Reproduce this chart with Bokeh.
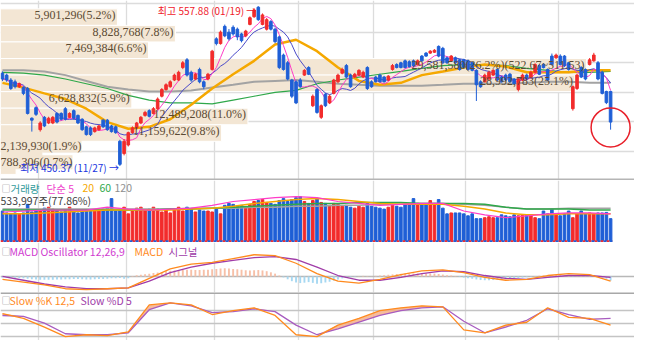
import numpy as np
import pandas as pd
from bokeh.plotting import figure
from bokeh.models import ColumnDataSource, Range1d, FixedTicker, LabelSet, Label, Span
from bokeh.layouts import column
from bokeh.embed import file_html
from bokeh.resources import INLINE
from bokeh.core.properties import value

# ---------------- data (daily candles) ----------------
opens = [512.8,511.5,508.2,507.0,503.7,503.1,502.5,482.5,489.6,474.8,483.1,479.3,479.3,485.7,485.7,488.9,483.1,487.6,484.4,481.8,
         476.7,476.0,473.5,474.8,481.2,481.2,477.3,476.7,467.0,458.7,464.5,472.8,476.0,479.3,484.4,487.6,485.7,488.9,497.3,501.8,
         503.7,508.2,508.2,516.6,521.8,513.4,508.9,515.3,507.0,508.9,515.3,535.9,532.7,544.3,540.4,543.7,542.4,539.2,537.9,545.6,
         550.8,557.2,545.6,542.4,547.5,542.4,537.2,525.0,519.8,508.2,507.0,508.2,511.5,516.6,490.9,501.8,483.1,498.6,492.8,499.2,
         507.0,512.8,517.9,511.5,510.2,511.5,510.2,516.6,507.0,510.2,511.5,510.2,508.2,515.3,518.6,519.8,521.1,520.5,521.1,518.6,
         524.3,526.3,526.3,526.9,530.8,529.5,523.1,521.1,523.1,521.8,521.8,521.1,519.8,514.7,507.0,507.0,508.9,511.5,515.3,510.2,
         511.5,512.1,508.9,501.8,508.2,511.5,510.2,513.4,517.9,518.6,515.3,524.3,523.1,524.3,524.3,519.8,488.9,502.5,516.6,515.3,
         518.6,521.1,519.8,513.4,500.5,500.5]
highs = [514.0,512.5,509.5,508.5,506.5,504.0,503.5,483.1,490.5,480.5,484.0,483.5,484.0,486.5,486.5,490.0,486.5,488.5,485.0,482.5,
         477.5,477.0,476.8,478.0,482.0,482.0,478.0,477.5,468.0,468.5,473.5,477.0,480.0,484.0,487.5,488.5,490.0,496.5,502.8,506.0,
         508.0,512.5,514.5,521.0,523.0,514.5,513.0,516.5,508.0,513.0,528.5,537.0,541.5,545.5,542.5,545.0,543.5,540.0,542.0,551.0,
         556.5,557.88,553.0,550.0,548.5,543.5,538.0,526.0,521.0,509.0,508.0,509.5,515.5,517.5,498.5,502.8,491.8,499.5,498.5,509.0,
         512.5,516.5,519.0,512.5,513.0,515.5,514.5,517.5,508.0,511.0,512.5,511.0,511.5,519.0,519.5,520.5,522.0,521.5,522.0,522.0,
         525.0,527.0,528.3,529.0,531.5,530.5,524.0,525.0,524.0,522.5,522.5,522.0,520.5,515.5,508.0,512.5,514.5,515.5,516.0,511.0,
         512.5,513.0,509.5,509.5,512.5,512.5,514.5,519.5,519.0,519.5,516.0,526.0,526.0,525.5,525.0,520.5,504.5,512.5,517.5,516.0,
         523.0,526.5,521.0,514.5,501.0,501.0]
lows = [507.5,507.0,501.5,502.5,502.8,498.0,485.0,473.5,484.0,473.5,476.5,478.5,478.5,479.0,481.0,481.0,482.5,481.5,478.5,474.0,
        470.8,470.5,472.8,474.0,476.0,474.0,472.8,472.0,450.37,457.5,463.5,472.0,475.0,478.5,483.5,483.0,485.0,488.0,496.5,501.0,
        503.0,507.5,507.5,515.5,510.5,507.0,508.0,506.0,502.0,508.0,514.5,531.5,532.0,537.0,534.7,538.0,535.0,533.5,537.0,545.0,
        550.0,548.0,545.0,541.5,541.5,533.0,515.5,514.5,508.0,496.0,492.0,503.0,511.0,511.5,490.0,485.5,482.0,490.0,492.0,498.5,
        506.0,512.0,509.5,503.0,509.5,511.0,509.5,501.5,503.0,506.5,506.5,506.5,507.5,514.5,516.0,516.0,516.0,516.5,517.0,518.0,
        520.5,523.8,525.8,526.5,523.5,519.0,519.0,520.5,519.0,514.5,516.0,514.5,514.0,494.1,503.0,506.5,508.0,511.0,507.5,506.5,
        507.5,506.5,505.0,500.5,507.5,508.0,509.5,512.5,511.5,516.0,507.5,518.0,522.5,518.0,517.0,514.5,487.6,501.5,509.5,508.0,
        518.0,520.5,508.0,498.5,492.0,474.8]
closes = [508.9,508.2,502.5,503.7,505.7,499.2,485.7,481.2,485.1,479.3,477.3,482.5,483.1,479.9,481.8,481.8,485.7,482.5,479.3,474.8,
          471.5,471.5,476.0,477.3,476.7,474.8,473.5,472.8,451.5,467.0,472.8,476.0,479.3,483.1,486.4,483.8,488.9,495.4,501.8,505.0,
          507.0,511.5,513.4,519.8,511.5,508.2,512.1,507.0,503.7,512.1,527.6,532.7,540.4,537.9,535.9,539.2,537.2,534.7,541.1,550.1,
          555.3,548.8,552.0,548.8,542.4,534.0,516.6,515.3,508.9,497.3,492.8,503.7,514.7,512.1,497.3,486.4,490.9,490.9,497.3,508.2,
          511.5,515.3,510.2,503.7,512.1,514.7,513.4,502.5,503.7,507.0,507.0,507.0,510.8,517.9,516.6,516.6,516.6,517.2,517.9,521.1,
          521.1,524.3,527.6,528.2,524.3,519.8,519.8,524.3,519.8,515.3,516.6,515.3,514.7,505.0,503.7,511.5,513.4,514.7,508.2,507.0,
          508.2,507.0,505.7,508.9,511.5,508.9,513.4,518.6,512.1,516.6,508.2,518.6,525.0,518.6,517.9,515.3,503.7,511.5,510.2,508.9,
          521.8,525.0,508.9,499.2,493.0,479.9]
volumes = [719000,673000,650000,673000,650000,673000,882000,696000,742000,719000,789000,812000,766000,742000,696000,742000,812000,696000,673000,719000,
           719000,719000,742000,719000,766000,789000,1021000,719000,742000,812000,650000,719000,789000,812000,742000,766000,812000,766000,696000,742000,
           673000,766000,812000,719000,812000,766000,696000,742000,719000,719000,696000,766000,650000,858000,905000,882000,835000,858000,812000,882000,
           951000,974000,998000,928000,905000,882000,974000,1021000,951000,998000,1044000,1067000,951000,905000,974000,1021000,928000,905000,858000,905000,
           882000,835000,858000,812000,789000,835000,812000,905000,835000,812000,789000,766000,812000,858000,835000,812000,882000,905000,1021000,905000,
           882000,882000,974000,905000,998000,789000,650000,673000,673000,673000,650000,603000,650000,534000,534000,557000,580000,557000,557000,626000,
           603000,580000,626000,603000,626000,626000,626000,557000,534000,719000,650000,766000,650000,603000,650000,719000,557000,650000,719000,650000,
           673000,650000,673000,673000,685840,533997]

# indicator lines read every 5 sessions
sample_idx = list(range(0, 146, 5))
ma20 = [506.3,503.1,499.2,495.4,488.9,479.9,475.4,476.7,481.8,491.5,502.5,512.1,521.1,532.1,535.3,527.6,516.6,507.6,505.0,506.3,
        511.5,514.0,516.6,518.6,517.3,513.4,513.4,513.4,514.7,514.7]
ma60 = [513.4,512.8,511.5,508.9,505.7,502.5,497.9,494.7,492.8,492.8,492.1,494.7,497.3,499.9,501.2,505.7,508.2,510.2,512.1,514.0,
        516.0,517.9,518.6,518.6,517.9,516.0,514.7,513.4,513.4,514.0]
ma120 = [514.7,514.7,514.0,511.5,507.6,503.7,501.8,500.5,500.5,501.2,503.1,505.0,507.0,507.6,508.2,507.0,505.7,505.0,504.4,504.4,
         504.4,505.0,505.7,505.7,505.7,506.3,507.0,507.0,506.3,506.3]
vma5 = [696000,719000,742000,742000,742000,812000,766000,742000,766000,789000,858000,951000,998000,1044000,1067000,1044000,951000,905000,858000,882000,
        905000,905000,719000,626000,557000,603000,650000,673000,673000,650000]
vma20 = [650000,650000,673000,696000,719000,742000,742000,742000,742000,766000,789000,835000,905000,951000,998000,1021000,998000,951000,905000,882000,
         882000,882000,835000,766000,673000,626000,626000,650000,650000,650000]
vma60 = [742000,742000,742000,742000,742000,742000,742000,742000,766000,766000,789000,812000,835000,858000,882000,905000,905000,928000,928000,928000,
         905000,905000,905000,882000,812000,766000,766000,766000,742000,742000]
vma120 = [766000,766000,766000,766000,766000,766000,766000,766000,766000,789000,789000,789000,812000,812000,835000,835000,858000,858000,882000,882000,
          905000,905000,882000,858000,812000,766000,766000,789000,789000,789000]
macd = [-1.5,-3,-4.5,-6.5,-7,-6.5,-6,-1,4,6.5,7.5,9.5,11.5,11,7,1.5,-2.5,-3.5,-1.5,1,3,3.5,2,-0.5,-2,-1.5,0.5,1.5,1,-2.5]
signal = [0,-2,-4,-5.5,-6.5,-6.5,-6,-2.5,2,5,7,8.5,10,10.5,9,5,0.5,-2,-2,-0.5,1.5,3,2.5,0.5,-1,-1.5,-0.5,0.5,0.5,-0.5]
osc = [-0.5,-0.6,-0.6,-0.7,-0.8,-1.0,-1.2,
       -1.5,-1.6,-1.7,-1.8,-1.8,-1.7,-1.6,-1.6,-1.5,-1.5,-1.4,-1.4,-1.5,-1.6,-1.6,-1.5,-1.4,-1.3,-1.2,-1.0,-0.9,-0.8,-1.2,-0.9,
       0.3,0.6,0.9,1.2,1.5,1.8,2.1,2.4,2.7,3.0,3.2,3.4,3.6,3.6,3.5,3.4,3.4,3.5,3.6,3.8,4.0,
       4.2,4.3,4.2,4.0,3.8,3.5,3.3,3.2,3.3,3.4,3.2,2.8,2.2,1.5,
       0.5,-0.5,-1.5,-2.5,-3.2,-3.5,-3.3,-3.0,-3.4,-3.8,-3.6,-3.2,-2.8,-2.2,-1.6,
       -1.0,-0.6,-0.4,-0.2,0.1,0.3,0.2,0.1,0.3,0.5,0.7,0.9,1.1,1.3,1.4,1.5,
       1.6,1.6,1.5,1.5,1.6,1.6,1.5,1.3,1.0,0.7,0.5,0.2,
       -0.3,-0.6,-0.9,-1.2,-1.6,-1.9,-2.0,-2.0,-1.9,-1.8,-1.7,-1.5,-1.3,-1.0,-0.8,-0.6,-0.4,-0.2,
       0.2,0.4,0.6,0.7,0.8,0.9,0.8,0.6,0.3,-0.2,0.1,0.3,0.5,0.7,0.8,
       0.2,-0.6,-1.2,-2.2]
slow_k = [73.3,62.2,42.2,20,24.4,22.2,31.1,93.3,97.8,93.3,71.1,80,86.7,68.9,24.4,20,46.7,62.2,80,86.7,
          91.1,88.9,35.6,28.9,46.7,53.3,86.7,64.4,62.2,46.7]
slow_d = [68.9,66.7,51.1,26.7,24.4,24.4,28.9,82.2,97.8,91.1,75.6,77.8,84.4,77.8,46.7,24.4,37.8,53.3,68.9,80,
          86.7,88.9,55.6,28.9,42.2,57.8,84.4,71.1,60,62.2]

# volume-by-price bands
vp_low = [544.95,533.81,522.67,511.53,500.39,489.25,478.11,466.97,455.83,444.69]
vp_high = [556.09,544.95,533.81,522.67,511.53,500.39,489.25,478.11,466.97,455.83]
vp_vol = [5901296,8828768,7469384,29581580,28992783,6628832,12489208,11159622,2139930,788306]
vp_pct = [5.2,7.8,6.6,26.2,25.1,5.9,11.0,9.8,1.9,0.7]

month_breaks = [8.5, 29.5, 50.5, 70.5, 88.5, 110.5, 132.5]
price_grid = [460, 480, 500, 520, 540, 560]

# ---------------- styling ----------------
KR = "Noto Sans CJK KR"
RED = "#f22c2c"
BLUE = "#1f5fd6"
GRID = "#dcdcdc"
W = 634

N = len(closes)
xi = np.arange(N)
xr = Range1d(-0.47, 150.7)


def panel(h, y0, y1, yticks):
    p = figure(width=W, height=h, x_range=xr, y_range=Range1d(y0, y1),
               output_backend="svg", toolbar_location=None,
               x_axis_location=None, y_axis_location=None, min_border=0,
               outline_line_color=None, background_fill_color="white",
               border_fill_color="white")
    p.xgrid.ticker = FixedTicker(ticks=month_breaks)
    p.ygrid.ticker = FixedTicker(ticks=yticks)
    p.grid.grid_line_color = GRID
    p.grid.grid_line_width = 1.3
    return p


def header(p, h, items, y_from_top):
    for xs, txt, col, size in items:
        p.add_layout(Label(x=xs, y=h - y_from_top, x_units="screen", y_units="screen",
                           text=txt, text_color=col, text_font=KR, text_font_size=size,
                           text_baseline="middle"))


o = np.array(opens); c = np.array(closes); hi = np.array(highs); lo = np.array(lows)
up = c >= o
col = np.where(up, RED, BLUE)
span_x = [xi[0] - 0.47, xi[-1] + 0.5]

# ---------------- main price panel ----------------
pm = panel(180, 440.6, 561.7, price_grid)
pm.extra_x_ranges = {"vp": Range1d(0, 32000000)}

vps = ColumnDataSource(dict(lo=vp_low, hi=vp_high, vol=vp_vol,
                            mid=[(a + b) / 2 for a, b in zip(vp_low, vp_high)]))
pm.quad(left=0, right="vol", bottom="lo", top="hi", x_range_name="vp", source=vps,
        fill_color="#f3e6d4", line_color="white", line_width=1)

labels = []
for v, pc in zip(vp_vol, vp_pct):
    labels.append(f"{v:,}({pc:.1f}%)")
labels[3] = labels[3] + f"({vp_high[3]:.2f}~{vp_low[3]:.2f})"
big = [i for i, v in enumerate(vp_vol) if v > 4000000]
small = [i for i, v in enumerate(vp_vol) if v <= 4000000]
src_big = ColumnDataSource(dict(x=[vp_vol[i] for i in big], y=[vps.data["mid"][i] for i in big],
                                t=[labels[i] for i in big]))
src_small = ColumnDataSource(dict(x=[0 for i in small], y=[vps.data["mid"][i] for i in small],
                                  t=[labels[i] for i in small]))
pm.add_layout(LabelSet(x="x", y="y", text="t", source=src_big, x_range_name="vp",
                       text_align="right", text_baseline="middle", text_font="Liberation Sans",
                       text_font_size="12px", text_color="#5b4a33", x_offset=-2, y_offset=2))
pm.add_layout(LabelSet(x="x", y="y", text="t", source=src_small, x_range_name="vp",
                       text_align="left", text_baseline="middle", text_font="Liberation Sans",
                       text_font_size="12px", text_color="#5b4a33", x_offset=0, y_offset=4,
                       background_fill_color="#f3e6d4"))

# moving averages
ma5 = pd.Series(closes).rolling(5, min_periods=1).mean()
ma10 = pd.Series(closes).rolling(10, min_periods=1).mean()
pm.line(sample_idx, ma120, color="#a3a3a3", line_width=2)
pm.line(sample_idx, ma60, color="#2fa84a", line_width=1.2)
pm.line(sample_idx, ma20, color="#f5a800", line_width=2.5)
pm.line(xi, ma10, color="#4a4ac8", line_width=1)
pm.line(xi, ma5, color="#ff3cc8", line_width=1)

cs = ColumnDataSource(dict(x=xi, h=hi, l=lo, top=np.maximum(o, c), bot=np.minimum(o, c), color=col))
pm.segment(x0="x", y0="h", x1="x", y1="l", color="color", source=cs, line_width=1)
pm.vbar(x="x", width=0.62, top="top", bottom="bot", fill_color="color", line_color="color", source=cs)

ih = int(np.argmax(hi)); il = int(np.argmin(lo))
pm.text(x=[ih], y=[hi[ih]], text=[f"최고 {hi[ih]:.2f} (01/19) →"], text_align="right",
        text_baseline="middle", x_offset=-2, y_offset=4, text_color="#f0202a",
        text_font=value(KR), text_font_size="10px")
pm.add_layout(Label(x=float(il), y=float(lo[il]), text=f"최저 {lo[il]:.2f} (11/27) →",
                    text_align="right", text_baseline="middle", x_offset=-1, y_offset=-2,
                    text_color="#1a35e0", text_font=KR, text_font_size="10px"))
pm.scatter(x=[N - 1], y=[lo[-1] + 1.5], size=39, marker="circle", fill_color=None,
           line_color="#e8202a", line_width=1.5)
pm.add_layout(Span(location=441.2, dimension="width", line_color="#b5b5b5", line_width=2))

# ---------------- volume panel ----------------
pv = panel(62, -46400, 1461600, [])
vs = ColumnDataSource(dict(x=xi, v=volumes, color=col))
pv.vbar(x="x", width=0.62, top="v", bottom=0, fill_color="color", line_color="color", source=vs)
pv.line(sample_idx, vma120, color="#a3a3a3", line_width=1.5)
pv.line(sample_idx, vma60, color="#2fa84a", line_width=1.5)
pv.line(sample_idx, vma20, color="#f5a800", line_width=1.5)
pv.line(sample_idx, vma5, color="#ff3cc8", line_width=1.2)
pv.line(span_x, [-23200, -23200], color=RED, line_width=2.5, line_dash="3 3")
pv.line(span_x, [-23200, -23200], color=BLUE, line_width=2.5, line_dash="3 3", line_dash_offset=3)
header(pv, 62, [(1, "□", "#8a8a8a", "9px"), (10, "거래량", "#2f9a9a", "10.5px"),
                (46, "단순 5", "#ee40cc", "10.5px"), (82, "20", "#f5a800", "10.5px"),
                (99, "60", "#2fa84a", "10.5px"), (114, "120", "#8f8f8f", "10.5px")], 7.5)
header(pv, 62, [(0, f"{volumes[-1]:,}주(77.86%)", "#404040", "10.5px")], 20)

# ---------------- MACD panel ----------------
pc = panel(50, -8.5, 18, [0])
pc.ygrid.grid_line_color = "#b8b8b8"
osc_arr = np.array(osc)
pc.vbar(x=xi, width=0.45, top=np.where(osc_arr > 0, osc_arr, 0), bottom=np.where(osc_arr < 0, osc_arr, 0),
        fill_color=np.where(osc_arr > 0, "#f7c0a8", "#a6d8f2").tolist(), line_color=None)
pc.line(sample_idx, signal, color="#a03ca8", line_width=1.3)
pc.line(sample_idx, macd, color="#ff8a1e", line_width=1.3)
header(pc, 50, [(1, "□", "#8a8a8a", "9px"), (9, "MACD Oscillator 12,26,9", "#d03cd0", "10.5px"),
                (134, "MACD", "#ff8a1e", "10.5px"), (168, "시그널", "#a03ca8", "10.5px")], 9)

# ---------------- Slow stochastic panel ----------------
ps = panel(48, 11.1, 122, [20, 50, 80])
ps.ygrid.grid_line_color = "#c4c4c4"
kk = np.array(slow_k); dd = np.array(slow_d)
ps.varea(x=sample_idx, y1=dd, y2=np.maximum(kk, dd), fill_color="#f5b08a", fill_alpha=0.85)
ps.line(sample_idx, slow_d, color="#a85cc0", line_width=1.3)
ps.line(sample_idx, slow_k, color="#ff8a1e", line_width=1.3)
ps.add_layout(Span(location=121, dimension="width", line_color="#a8a8a8", line_width=2))
header(ps, 48, [(1, "□", "#8a8a8a", "9px"), (9, "Slow %K 12,5", "#ff8a1e", "10.5px"),
                (80, "Slow %D 5", "#a03ca8", "10.5px")], 8)

layout = column(pm, pv, pc, ps, spacing=0)
open("out.html", "w").write(file_html(layout, INLINE))
